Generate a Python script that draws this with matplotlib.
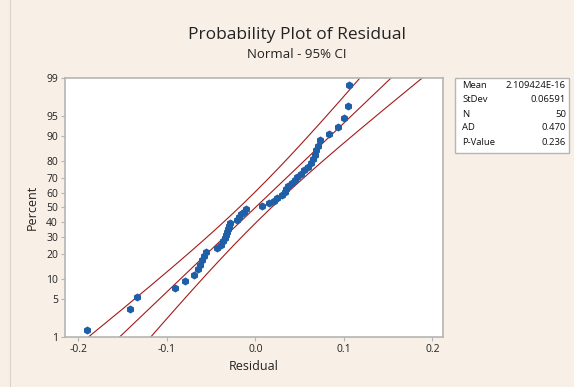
import numpy as np
import matplotlib
matplotlib.use("Agg")
import matplotlib.pyplot as plt
from matplotlib.ticker import FixedLocator, NullLocator
from statistics import NormalDist

# ---- data (sorted residuals) ----
residuals = [-0.190, -0.142, -0.134, -0.091, -0.080, -0.069, -0.065, -0.062, -0.060, -0.058,
             -0.056, -0.043, -0.039, -0.036, -0.034, -0.033, -0.032, -0.031, -0.030, -0.029,
             -0.021, -0.018, -0.016, -0.013, -0.010, 0.007, 0.016, 0.021, 0.025, 0.030,
             0.033, 0.035, 0.037, 0.041, 0.045, 0.047, 0.052, 0.055, 0.059, 0.063,
             0.065, 0.067, 0.069, 0.071, 0.073, 0.083, 0.093, 0.100, 0.105, 0.106]
fit_mean = 2.109424e-16
fit_sd = 0.06591
stat_labels = ["Mean", "StDev", "N", "AD", "P-Value"]
stat_values = ["2.109424E-16", "0.06591", "50", "0.470", "0.236"]
pct_ticks = [1, 5, 10, 20, 30, 40, 50, 60, 70, 80, 90, 95, 99]
x_ticks = [-0.2, -0.1, 0.0, 0.1, 0.2]

nd = NormalDist()
x = np.sort(np.array(residuals))
n = len(x)
ranks = np.arange(1, n + 1)
probs = (ranks - 0.3) / (n + 0.4)
zpts = np.array([nd.inv_cdf(p) for p in probs])

zline = np.linspace(nd.inv_cdf(0.01), nd.inv_cdf(0.99), 200)
xfit = fit_mean + fit_sd * zline
se = fit_sd * np.sqrt((1 + zline**2 / 2) / n)
xlo = xfit - 1.96 * se
xhi = xfit + 1.96 * se

W, H = 574, 387
bg = "#f8f0e6"
fig = plt.figure(figsize=(W / 100, H / 100), dpi=100, facecolor=bg)
ax = fig.add_axes([65 / W, 1 - 337 / H, (443 - 65) / W, (337 - 78) / H])
ax.set_facecolor("white")

red = "#a31a1a"
for xx in (xlo, xfit, xhi):
    ax.plot(xx, zline, color=red, lw=0.8)
ax.scatter(x, zpts, s=34, color="#1f5fa8", marker="h", zorder=3, linewidths=0)

zl = nd.inv_cdf(0.99)
ax.set_ylim(-zl, zl)
ax.set_xlim(-0.215, 0.212)
ax.yaxis.set_major_locator(FixedLocator([nd.inv_cdf(p / 100) for p in pct_ticks]))
ax.set_yticklabels([str(p) for p in pct_ticks])
ax.yaxis.set_minor_locator(NullLocator())
ax.set_xticks(x_ticks)
ax.set_xticklabels([f"{t:.1f}" for t in x_ticks])

for s in ax.spines.values():
    s.set_color("#b5b5b5")
    s.set_linewidth(1.2)
ax.tick_params(axis="both", colors="#b5b5b5", labelcolor="#222222", labelsize=7.5,
               length=3, width=0.8, pad=2)

fam = ["Open Sans", "DejaVu Sans"]
for lbl in ax.get_xticklabels() + ax.get_yticklabels():
    lbl.set_family(fam)

ax.set_xlabel("Residual", fontsize=9, family=fam, color="#222222", labelpad=4)
ax.set_ylabel("Percent", fontsize=9, family=fam, color="#222222", labelpad=5)

cx = 297 / W
fig.text(cx, 1 - 35 / H, "Probability Plot of Residual", ha="center",
         va="center", fontsize=12.5, family=fam, color="#222222")
fig.text(cx, 1 - 54 / H, "Normal - 95% CI", ha="center",
         va="center", fontsize=9.5, family=fam, color="#222222")

# stats box
bx0, by0, bx1, by1 = 455, 78, 569, 153
box = plt.Rectangle((bx0 / W, 1 - by1 / H), (bx1 - bx0) / W, (by1 - by0) / H,
                    transform=fig.transFigure, facecolor="white", edgecolor="#b5b5b5", lw=1.0)
fig.patches.append(box)
for i, (lab, val) in enumerate(zip(stat_labels, stat_values)):
    yy = 1 - (86 + 14 * i) / H
    fig.text(462 / W, yy, lab, ha="left", va="center", fontsize=6.8, family=fam, color="#111111")
    fig.text(566 / W, yy, val, ha="right", va="center", fontsize=6.8, family=fam, color="#111111")

# outer frame line at left
fig.add_artist(plt.Line2D([10 / W, 10 / W], [0, 1], transform=fig.transFigure,
                          color="#d8d2ca", lw=0.8))

fig.savefig("out.png", dpi=100, facecolor=bg)
